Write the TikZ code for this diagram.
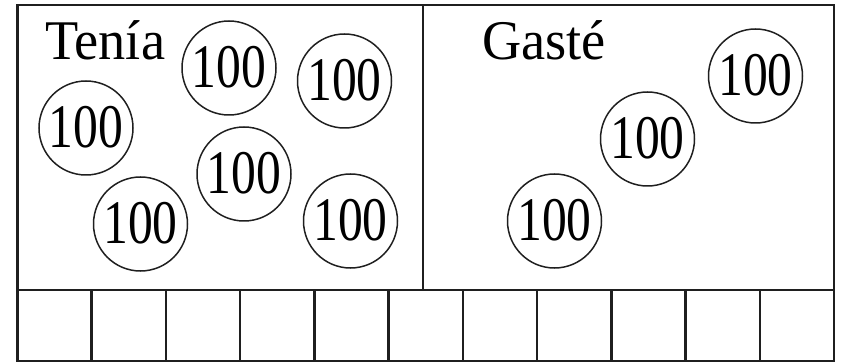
\documentclass[tikz,border=0pt]{standalone}
\usepackage{fontspec}
\setmainfont{Liberation Serif}
\usepackage{graphicx}
\begin{document}
\begin{tikzpicture}[x=1pt,y=-1pt,
  frame/.style={line width=2.6pt,black!88},
  coin/.style={circle,draw=black!88,line width=1.5pt,minimum size=94pt,inner sep=0pt,
    font=\fontsize{62}{66}\selectfont},
  title/.style={anchor=base west,inner sep=0pt,font=\fontsize{56}{60}\selectfont}]
\useasboundingbox (0,0) rectangle (843,363);
% frame
\draw[frame] (17.5,5) rectangle (834,361);
\draw[frame] (17.5,290) -- (834,290);
\draw[frame] (423,5) -- (423,290);
\foreach \i in {1,...,10} {
  \draw[frame] ({17.5+74.23*\i},290) -- ({17.5+74.23*\i},361);
}
% titles
\node[title] (tenia) at (45,60) {\scalebox{0.97}[1]{Tenía}};
\node[title] (gaste) at (482,60) {\scalebox{0.97}[1]{Gasté}};
% coins
\newcommand{\hund}{\raisebox{3pt}{\scalebox{0.8}[1]{100}}}
\node[coin] (c1) at (229,68) {\hund};
\node[coin] (c2) at (344.5,81) {\hund};
\node[coin] (c3) at (86,128) {\hund};
\node[coin] (c4) at (244,174) {\hund};
\node[coin] (c5) at (140.5,224) {\hund};
\node[coin] (c6) at (350.5,221) {\hund};
\node[coin] (c7) at (755.5,76) {\hund};
\node[coin] (c8) at (647.5,139) {\hund};
\node[coin] (c9) at (554.5,221) {\hund};
\end{tikzpicture}
\end{document}
